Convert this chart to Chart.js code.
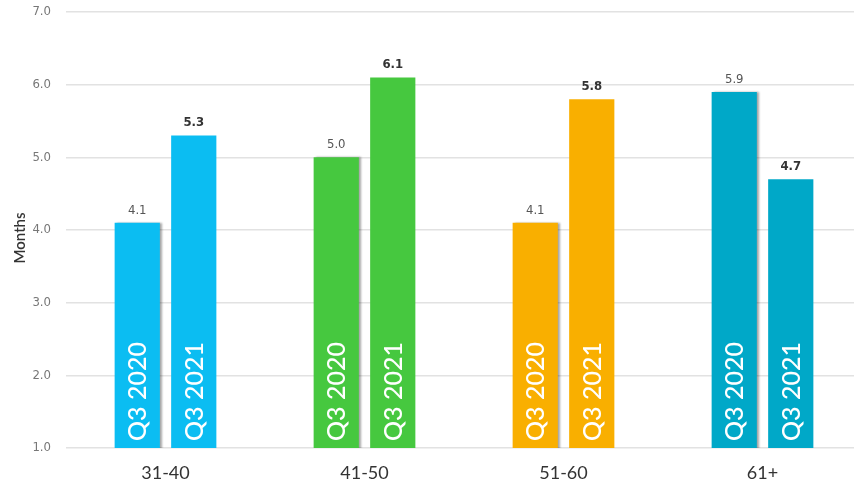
<!DOCTYPE html>
<html>
<head>
<meta charset="utf-8">
<script src="https://cdn.jsdelivr.net/npm/chart.js@4/dist/chart.umd.min.js"></script>
<style>
  html, body { margin: 0; padding: 0; background: #fff; overflow: hidden; }
  #wrap { position: relative; width: 862px; height: 496px; }
</style>
</head>
<body>
<div id="wrap"><canvas id="c"></canvas></div>
<script>
const categories = ['31-40', '41-50', '51-60', '61+'];
const seriesNames = ['Q3 2020', 'Q3 2021'];
const q3_2020 = [4.1, 5.0, 4.1, 5.9];
const q3_2021 = [5.3, 6.1, 5.8, 4.7];
const yTicks = [1, 2, 3, 4, 5, 6, 7];
const categoryColors = ['#0BBDF2', '#46C83F', '#F9AF00', '#00A8C8'];
const yTitle = 'Months';

const narrow = "'Liberation Sans Narrow', 'DejaVu Sans Condensed', 'Liberation Sans', sans-serif";

const valueLabels = {
  id: 'valueLabels',
  afterDatasetsDraw(chart) {
    const ctx = chart.ctx;
    const bottom = chart.chartArea.bottom;
    chart.data.datasets.forEach((ds, di) => {
      const meta = chart.getDatasetMeta(di);
      meta.data.forEach((bar, i) => {
        ctx.save();
        ctx.textAlign = 'center';
        ctx.textBaseline = 'bottom';
        if (di === 0) {
          ctx.font = "13px " + narrow;
          ctx.fillStyle = '#555';
        } else {
          ctx.font = "bold 13px " + narrow;
          ctx.fillStyle = '#333';
        }
        ctx.fillText(ds.data[i].toFixed(1), bar.x, bar.y - 6);
        ctx.translate(bar.x, bottom - 7);
        ctx.rotate(-Math.PI / 2);
        ctx.textAlign = 'left';
        ctx.textBaseline = 'middle';
        ctx.font = "500 25px Lato, 'Open Sans', sans-serif";
        ctx.fillStyle = '#ffffff';
        ctx.fillText(ds.label, 0, 1);
        ctx.restore();
      });
    });
    ctx.save();
    ctx.translate(20, 238);
    ctx.rotate(-Math.PI / 2);
    ctx.textAlign = 'center';
    ctx.textBaseline = 'middle';
    ctx.font = "600 15px Lato, 'Open Sans', sans-serif";
    ctx.fillStyle = '#333';
    ctx.fillText(yTitle, 0, 0);
    ctx.restore();
  }
};

const barShadow = {
  id: 'barShadow',
  beforeDatasetDraw(chart, args) {
    if (args.index === 0) {
      const ctx = chart.ctx;
      ctx.save();
      ctx.shadowColor = 'rgba(0,0,0,0.35)';
      ctx.shadowOffsetX = 2;
      ctx.shadowOffsetY = 0;
      ctx.shadowBlur = 2;
    }
  },
  afterDatasetDraw(chart, args) {
    if (args.index === 0) chart.ctx.restore();
  }
};

new Chart(document.getElementById('c'), {
  type: 'bar',
  data: {
    labels: categories,
    datasets: [
      { label: seriesNames[0], data: q3_2020, backgroundColor: categoryColors },
      { label: seriesNames[1], data: q3_2021, backgroundColor: categoryColors }
    ]
  },
  options: {
    responsive: true,
    maintainAspectRatio: false,
    animation: false,
    layout: { padding: { top: 12, left: 0, right: 0, bottom: 0 } },
    categoryPercentage: 0.568,
    barPercentage: 0.8,
    plugins: {
      legend: { display: false },
      tooltip: { enabled: false }
    },
    scales: {
      x: {
        grid: { display: false, drawTicks: false },
        border: { display: false },
        ticks: {
          color: '#333',
          font: { family: "Lato, 'Open Sans', sans-serif", size: 18 },
          padding: 14
        },
        afterFit(s) { s.height = 48; }
      },
      y: {
        min: 1, max: 7,
        afterBuildTicks(s) { s.ticks = yTicks.map(v => ({ value: v })); },
        grid: { color: '#e2e2e2', lineWidth: 1.5, drawTicks: false },
        border: { display: false },
        ticks: {
          color: '#777',
          font: { family: narrow, size: 13 },
          padding: 15,
          callback: v => Number(v).toFixed(1)
        },
        afterFit(s) { s.width = 66; s.paddingTop = 0; s.paddingBottom = 0; }
      }
    }
  },
  plugins: [barShadow, valueLabels]
});
</script>
</body>
</html>
